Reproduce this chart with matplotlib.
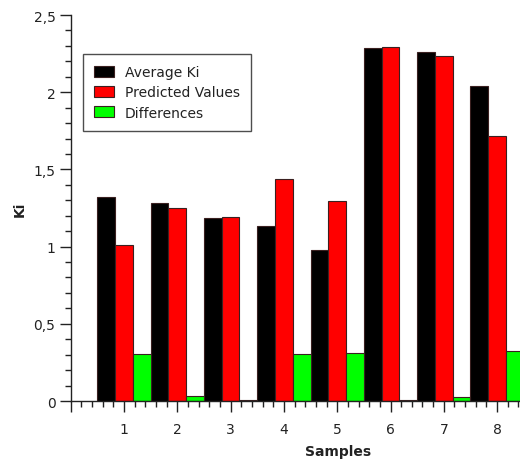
import matplotlib
matplotlib.use("Agg")
import matplotlib.pyplot as plt
from matplotlib.ticker import MultipleLocator, FuncFormatter
import numpy as np

samples = [1, 2, 3, 4, 5, 6, 7, 8]
average_ki = [1.32, 1.284, 1.186, 1.132, 0.98, 2.285, 2.258, 2.037]
predicted = [1.013, 1.249, 1.193, 1.435, 1.294, 2.292, 2.232, 1.716]
differences = [0.307, 0.03, 0.007, 0.303, 0.314, 0.007, 0.026, 0.321]
series_labels = ["Average Ki", "Predicted Values", "Differences"]
series_colors = ["#000000", "#ff0000", "#00ff00"]

W, H = 520, 464
fig = plt.figure(figsize=(W / 100, H / 100), dpi=100)
left, right, top, bottom = 70.7, 520, 16, 402
ax = fig.add_axes([left / W, 1 - bottom / H, (right - left) / W, (bottom - top) / H])

x = np.array(samples, dtype=float)
bw = 1 / 3
handles = []
for k, (vals, col, lab) in enumerate(zip([average_ki, predicted, differences],
                                         series_colors, series_labels)):
    b = ax.bar(x + (k - 1) * bw, vals, width=bw, color=col,
               edgecolor="#3a2020", linewidth=0.8, label=lab, zorder=2)
    handles.append(b)

ax.set_xlim(0, (right - left) / 53.3)
ax.set_ylim(0, 2.5)

for s in ["top", "right"]:
    ax.spines[s].set_visible(False)
for s in ["left", "bottom"]:
    ax.spines[s].set_color("#222222")
    ax.spines[s].set_linewidth(1.0)

ax.xaxis.set_major_locator(MultipleLocator(1))
ax.xaxis.set_minor_locator(MultipleLocator(0.2))
ax.yaxis.set_major_locator(MultipleLocator(0.5))
ax.yaxis.set_minor_locator(MultipleLocator(0.1))

ax.xaxis.set_major_formatter(FuncFormatter(lambda v, p: f"{int(round(v))}" if 1 <= round(v) <= 8 else ""))
ax.yaxis.set_major_formatter(FuncFormatter(lambda v, p: (f"{v:g}").replace(".", ",")))

ax.tick_params(axis="both", which="major", length=8, width=1.0, color="#222222",
               labelsize=10, labelcolor="#222222")
ax.tick_params(axis="both", which="minor", length=4.5, width=1.0, color="#222222")
ax.tick_params(axis="x", which="major", pad=7)
ax.tick_params(axis="y", which="major", pad=3)

ax.set_xlabel("Samples", fontsize=10, fontweight="bold", color="#222222")
ax.xaxis.set_label_coords((338 - left) / (right - left), -(452 - bottom) / (bottom - top) + 0.0)
ax.xaxis.label.set_va("center")
ax.set_ylabel("Ki", fontsize=10, fontweight="bold", color="#222222")
ax.yaxis.set_label_coords(-(left - 20) / (right - left), 0.5)
ax.yaxis.label.set_va("center")

leg = ax.legend(handles=handles, loc="upper left",
                bbox_to_anchor=(82.7 / W, 1 - 55 / H), bbox_transform=fig.transFigure,
                borderaxespad=0, fontsize=10, frameon=True, fancybox=False,
                handlelength=1.45, handleheight=0.8, handletextpad=0.8,
                labelspacing=0.45, borderpad=0.8)
leg.get_frame().set_edgecolor("#222222")
leg.get_frame().set_linewidth(1.0)
for t in leg.get_texts():
    t.set_color("#222222")

fig.savefig("out.png", dpi=100)
